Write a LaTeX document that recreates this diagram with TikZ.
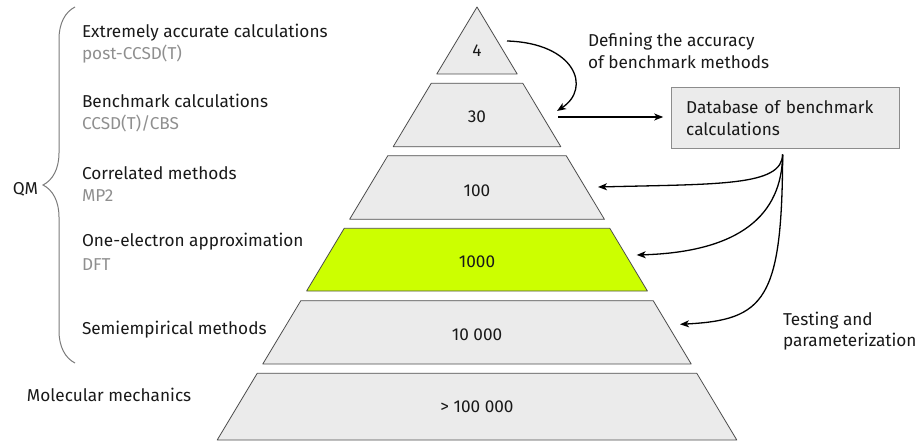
\documentclass[tikz,border=0pt]{standalone}
\usepackage{fontspec}
\setmainfont{Fira Sans}
\usetikzlibrary{arrows.meta,decorations.pathreplacing}
\definecolor{tierfill}{HTML}{EBEBEB}
\definecolor{tierline}{HTML}{4D4D4D}
\definecolor{dftgreen}{HTML}{CCFF00}
\definecolor{subgray}{HTML}{8F8F8F}
\definecolor{bracegray}{HTML}{7A7A7A}
\begin{document}
\begin{tikzpicture}[x=1pt,y=-1pt,inner sep=0pt,outer sep=0pt,
  font=\fontsize{17.2}{21.5}\selectfont,
  >={Stealth[length=9pt,width=7pt,inset=2.5pt]},
  tier/.style={draw=tierline,fill=tierfill,line width=0.8pt,line join=round},
  level/.style={anchor=base west,text=black!90},
  method/.style={anchor=base west,text=subgray},
  count/.style={anchor=base,text=black!90},
  link/.style={->,line width=1.3pt}]
\useasboundingbox (0,0) rectangle (923,441);
% pyramid, top to bottom
\draw[tier] (477,7) -- (517.2,74) -- (436.8,74) -- cycle;
\draw[tier] (431.2,83.3) -- (522.8,83.3) -- (560.8,146.7) -- (393.2,146.7) -- cycle;
\draw[tier] (387.8,155.7) -- (566.2,155.7) -- (604.4,219.3) -- (349.6,219.3) -- cycle;
\draw[tier,fill=dftgreen] (344.2,228.3) -- (609.8,228.3) -- (647.4,291) -- (306.6,291) -- cycle;
\draw[tier] (300.8,300.7) -- (653.2,300.7) -- (691.2,364) -- (262.8,364) -- cycle;
\draw[tier] (257.2,373.3) -- (696.8,373.3) -- (736.8,440) -- (217.2,440) -- cycle;
\draw (477,56.7) node[count] (n4) {4};
\draw (477,123) node[count] (n30) {30};
\draw (477,196.7) node[count] (n100) {100};
\draw (477,267.3) node[count] (n1000) {1000};
\draw (477,340.7) node[count] (n10k) {10 000};
\draw (477,412.3) node[count] (n100k) {> 100 000};
% levels on the left
\draw (82,37.3) node[level] (l1) {Extremely accurate calculations};
\draw (82,59.3) node[method] (m1) {post-CCSD(T)};
\draw (82,107.3) node[level] (l2) {Benchmark calculations};
\draw (82,130) node[method] (m2) {CCSD(T)/CBS};
\draw (82,179) node[level] (l3) {Correlated methods};
\draw (82,201) node[method] (m3) {MP2};
\draw (82,246.7) node[level] (l4) {One-electron approximation};
\draw (82,270.7) node[method] (m4) {DFT};
\draw (82,334.3) node[level] (l5) {Semiempirical methods};
\draw (27,401.7) node[level] (l6) {Molecular mechanics};
\coordinate (qmtop) at (75,7);
\coordinate (qmbot) at (75,363);
\draw[bracegray,line width=1pt,decorate,decoration={brace,amplitude=32pt}] (qmbot) -- (qmtop);
\draw (38,189) node[anchor=east,text=black!90] (qm) {QM};
% benchmark database and arrows
\draw (785.2,118) node[draw=black!45,fill=tierfill,line width=0.8pt,minimum width=228pt,minimum height=61pt,
  text width=198pt,align=left,text=black!90] (db) {Database of benchmark\\calculations};
\draw (588,51) node[anchor=west,align=left,text=black!90] (define) {Defining the accuracy\\of benchmark methods};
\draw (783,331) node[anchor=west,align=left,text=black!90] (test) {Testing and\\parameterization};
\coordinate (top4) at (507,41);
\coordinate (in30) at (557,111);
\coordinate (out30) at (558,117);
\coordinate (in100) at (598,187);
\coordinate (in1000) at (636.7,255);
\coordinate (in10k) at (680,324.3);
\draw[link] (top4) .. controls (575,43) and (592,88) .. (in30);
\draw[link,shorten >=8pt] (out30) -- (db.west|-out30);
\draw[link,shorten <=6pt] (db.south-|782.7,0) .. controls (782,186) and (720,184) .. (in100);
\draw[link,shorten <=6pt] (db.south-|782.7,0) .. controls (782,215) and (740,252) .. (in1000);
\draw[link,shorten <=6pt] (db.south-|782.7,0) .. controls (782,300) and (765,320) .. (in10k);
\end{tikzpicture}
\end{document}
